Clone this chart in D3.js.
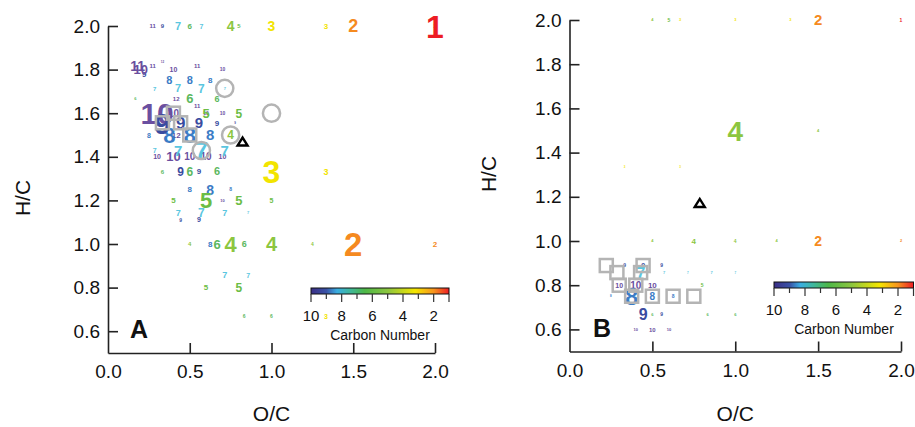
<!DOCTYPE html>
<html><head><meta charset="utf-8">
<script src="https://cdnjs.cloudflare.com/ajax/libs/d3/7.8.5/d3.min.js"></script>
<style>
html,body{margin:0;padding:0;background:#fff;}
svg{display:block;font-family:"Liberation Sans",Arial,sans-serif;}
</style></head>
<body><svg id="c" width="915" height="427"></svg>
<script>
// ---------- DATA ----------
// Panel A: O/C, H/C, carbon number, relative signal (0-100)
const aOC = [0.273,0.333,0.429,0.5,0.571,0.75,0.8,1.0,1.333,1.5,2.0,2.0,
 0.182,0.2,0.222,0.273,0.333,0.4,0.545,0.7,
 0.375,0.5,0.625,
 0.286,0.429,0.571,0.714,
 0.167,0.417,0.5,0.667,0.545,
 0.3,0.4,0.6,0.6,0.7,0.8,
 0.333,0.444,0.556,0.667,0.778,
 0.25,0.375,0.417,0.5,0.625,0.75,
 0.286,0.429,0.571,0.714,
 0.3,0.4,0.5,0.6,0.7,
 0.333,0.444,0.5,0.556,0.667,1.0,1.333,
 0.5,0.625,0.75,
 0.4,0.6,0.7,0.8,1.0,
 0.429,0.571,0.714,0.857,
 0.444,0.556,
 0.5,0.625,0.667,0.75,0.833,1.0,1.25,1.5,2.0,
 0.714,0.857,
 0.6,0.8,
 0.833,1.0,1.333];
const aHC = [2,2,2,2,2,2,2,2,2,2,2,2,
 1.818,1.8,1.778,1.818,1.833,1.8,1.818,1.8,
 1.75,1.75,1.75,
 1.714,1.714,1.714,1.714,
 1.667,1.667,1.667,1.667,1.636,
 1.6,1.6,1.6,1.6,1.6,1.6,
 1.556,1.556,1.556,1.556,1.556,
 1.5,1.5,1.5,1.5,1.5,1.5,
 1.429,1.429,1.429,1.429,
 1.4,1.4,1.4,1.4,1.4,
 1.333,1.333,1.333,1.333,1.333,1.333,1.333,
 1.25,1.25,1.25,
 1.2,1.2,1.2,1.2,1.2,
 1.143,1.143,1.143,1.143,
 1.111,1.111,
 1,1,1,1,1,1,1,1,1,
 0.857,0.857,
 0.8,0.8,
 0.667,0.667,0.667];
const aCN = [11,9,7,6,7,4,5,3,3,2,1,2,
 11,10,9,11,12,10,11,10,
 8,8,8,
 7,7,7,7,
 6,12,6,6,11,
 10,10,5,10,10,5,
 9,9,9,9,9,
 8,8,12,8,8,4,
 7,7,7,7,
 10,10,10,10,10,
 6,9,6,9,6,3,3,
 8,8,8,
 5,5,10,5,5,
 7,7,7,7,
 9,9,
 4,8,6,4,6,4,4,2,2,
 7,7,
 5,5,
 6,6,3];
const aSig = [18,18,33,24,21,42,18,42,24,54,96,15,
 42,39,24,18,9,21,18,15,
 33,33,24,
 18,33,36,12,
 12,18,39,27,18,
 90,30,39,15,15,36,
 90,51,45,24,9,
 21,66,24,66,45,36,
 21,45,72,45,
 21,39,30,30,21,
 18,36,36,24,33,96,27,
 24,42,15,
 24,66,12,39,21,
 27,36,27,12,
 15,21,
 18,24,39,66,27,60,15,99,24,
 27,21,
 24,36,
 15,15,21];

// Panel B
const bOC = [0.5,0.6,0.667,1.0,1.333,1.5,2.0,
 1.0,1.5,0.333,0.667,
 0.5,0.75,1.0,1.25,1.5,2.0,
 0.333,0.444,0.556,
 0.429,0.571,0.714,0.857,1.0,
 0.3,0.4,0.5,0.8,
 0.25,0.375,0.5,0.625,
 0.444,0.5,0.556,0.833,1.0,
 0.4,0.5,0.6];
const bHC = [2,2,2,2,2,2,2,
 1.5,1.5,1.333,1.333,
 1,1,1,1,1,1,
 0.889,0.889,0.889,
 0.857,0.857,0.857,0.857,0.857,
 0.8,0.8,0.8,0.8,
 0.75,0.75,0.75,0.75,
 0.667,0.667,0.667,0.667,0.667,
 0.6,0.6,0.6];
const bCN = [4,5,3,3,3,2,1,
 4,4,3,3,
 4,4,4,4,2,2,
 9,9,9,
 7,7,7,7,7,
 10,10,10,5,
 8,8,8,8,
 9,6,9,6,6,
 10,10,10];
const bSig = [12,15,12,12,12,45,15,
 84,12,9,9,
 12,24,15,12,42,12,
 15,21,15,
 51,12,9,12,9,
 21,30,24,15,
 9,72,30,15,
 48,12,15,12,12,
 12,18,12];

// Reference compounds (grey markers)
const aCircOC = [0.714,1.0,0.75,0.571];
const aCircHC = [1.714,1.6,1.5,1.429];
const aSqOC = [0.4,0.333,0.444,0.5];
const aSqHC = [1.6,1.556,1.556,1.5];
const bSqOC = [0.222,0.286,0.444,0.429,0.3,0.4,0.375,0.5,0.625,0.75];
const bSqHC = [0.889,0.857,0.889,0.857,0.8,0.8,0.75,0.75,0.75,0.75];
const aTri = [0.823,1.47];
const bTri = [0.786,1.172];

const xTicks = [0,0.5,1.0,1.5,2.0];
const yTicks = [0.6,0.8,1.0,1.2,1.4,1.6,1.8,2.0];
const cbTicks = [10,8,6,4,2];

// carbon-number colours
const cnKeys = [1,2,3,4,5,6,7,8,9,10,11,12];
const cnCols = ["#ed1c24","#f58a1f","#f2e400","#8cc63f","#6bbd45","#5cb85e","#5ac6e0","#3b7cc6","#3a4ca0","#6a4fa0","#6a4fa0","#6a4fa0"];
const barKeys = [10,9,8.3,7.5,6.5,5,3.2,2,1];
const barCols = ["#3b2f86","#3a52a6","#3aaee2","#3fb8a0","#4db848","#8cc63f","#f5e600","#f7941d","#ed1c24"];

// ---------- DRAW ----------
const svg = d3.select("#c");
const color = d3.scaleOrdinal().domain(cnKeys).range(cnCols);
const fsize = d3.scaleLinear().domain([0,100]).range([0,33.3]);

const defs = svg.append("defs");

function panel(o){
  const x = d3.scaleLinear().domain([0,2]).range([o.x0,o.x1]);
  const y = d3.scaleLinear().domain([0.5,2]).range([o.y1,o.y0]);
  const g = svg.append("g");
  // axes
  const ax = g.append("g").attr("transform",`translate(0,${o.y1})`)
    .call(d3.axisBottom(x).tickValues(xTicks).tickFormat(d3.format(".1f")).tickSizeInner(-10).tickSizeOuter(0).tickPadding(12));
  const ay = g.append("g").attr("transform",`translate(${o.x0},0)`)
    .call(d3.axisLeft(y).tickValues(yTicks).tickFormat(d3.format(".1f")).tickSizeInner(-10).tickSizeOuter(0).tickPadding(8));
  [ax,ay].forEach(a=>{
    a.selectAll("path,line").attr("stroke","#222").attr("stroke-width",1.6);
    a.selectAll("text").attr("font-size",19).attr("fill","#111").attr("font-family","Liberation Sans, Arial, sans-serif");
  });
  ax.selectAll(".tick").filter(d=>d===0).select("line").remove();
  // titles
  g.append("text").attr("x",(o.x0+o.x1)/2).attr("y",o.xtY).attr("text-anchor","middle")
    .attr("font-size",21).attr("fill","#111").text("O/C");
  g.append("text").attr("transform",`translate(${o.ytX},${o.ytY}) rotate(-90)`).attr("text-anchor","middle")
    .attr("font-size",21).attr("fill","#111").text("H/C");
  g.append("text").attr("x",o.lx).attr("y",o.ly).attr("font-size",25).attr("font-weight","bold")
    .attr("fill","#111").text(o.letter);

  // points
  const pts = o.oc.map((d,i)=>({oc:d,hc:o.hc[i],cn:o.cn[i],s:o.sig[i]}))
    .sort((a,b)=>a.s-b.s);
  g.append("g").selectAll("text").data(pts).join("text")
    .attr("x",d=>x(d.oc)).attr("y",d=>y(d.hc))
    .attr("text-anchor","middle").attr("dy","0.36em")
    .attr("font-size",d=>fsize(d.s)).attr("font-weight","bold")
    .attr("fill",d=>color(d.cn)).text(d=>d.cn);

  // grey reference markers
  const mk = g.append("g").attr("fill","none").attr("stroke","#b4b4b4").attr("stroke-width",2.5);
  if(o.cOC) mk.selectAll("circle").data(o.cOC).join("circle")
    .attr("cx",d=>x(d)).attr("cy",(d,i)=>y(o.cHC[i])).attr("r",8.6);
  mk.selectAll("rect").data(o.sOC).join("rect")
    .attr("x",d=>x(d)-6.5).attr("y",(d,i)=>y(o.sHC[i])-6.5).attr("width",13).attr("height",13);
  // triangle
  const tx = x(o.tri[0]), ty = y(o.tri[1]);
  g.append("path").attr("d",`M${tx-5},${ty+4}L${tx},${ty-4}L${tx+5},${ty+4}Z`)
    .attr("fill","none").attr("stroke","#000").attr("stroke-width",2.4).attr("stroke-linejoin","miter");

  // colour bar
  const cb = d3.scaleLinear().domain([10,1]).range([o.cbX0,o.cbX1]);
  const gid = "grad"+o.letter;
  const gr = defs.append("linearGradient").attr("id",gid).attr("x1","0%").attr("x2","100%");
  barKeys.forEach((k,i)=>gr.append("stop").attr("offset",((10-k)/9*100)+"%").attr("stop-color",barCols[i]));
  const cg = g.append("g");
  cg.append("rect").attr("x",cb(10)).attr("y",o.cbY).attr("width",cb(1)-cb(10)).attr("height",6)
    .attr("fill",`url(#${gid})`).attr("stroke","#111").attr("stroke-width",1);
  cg.selectAll("line").data(d3.range(1,11)).join("line")
    .attr("x1",d=>cb(d)).attr("x2",d=>cb(d)).attr("y1",o.cbY+6).attr("y2",d=>o.cbY+6+(d%2===0||d===1?8:5))
    .attr("stroke","#333").attr("stroke-width",1.2);
  cg.selectAll("text.cbt").data(cbTicks).join("text").attr("class","cbt")
    .attr("x",d=>cb(d)).attr("y",o.cbY+33).attr("text-anchor","middle").attr("font-size",15).attr("fill","#111").text(d=>d);
  cg.append("text").attr("x",o.cbTX).attr("y",o.cbY+52).attr("text-anchor","middle").attr("font-size",14)
    .attr("fill","#111").text("Carbon Number");
}

panel({letter:"A",x0:108,x1:435,y0:26,y1:353,xtY:421,ytX:30,ytY:198,lx:130,ly:338,
  oc:aOC,hc:aHC,cn:aCN,sig:aSig,cOC:aCircOC,cHC:aCircHC,sOC:aSqOC,sHC:aSqHC,tri:aTri,
  cbX0:311,cbX1:449,cbY:288,cbTX:380});
panel({letter:"B",x0:569.5,x1:901,y0:20,y1:351.5,xtY:421,ytX:496,ytY:174,lx:593,ly:337,
  oc:bOC,hc:bHC,cn:bCN,sig:bSig,sOC:bSqOC,sHC:bSqHC,tri:bTri,
  cbX0:774,cbX1:913.5,cbY:282,cbTX:844});
</script></body></html>
